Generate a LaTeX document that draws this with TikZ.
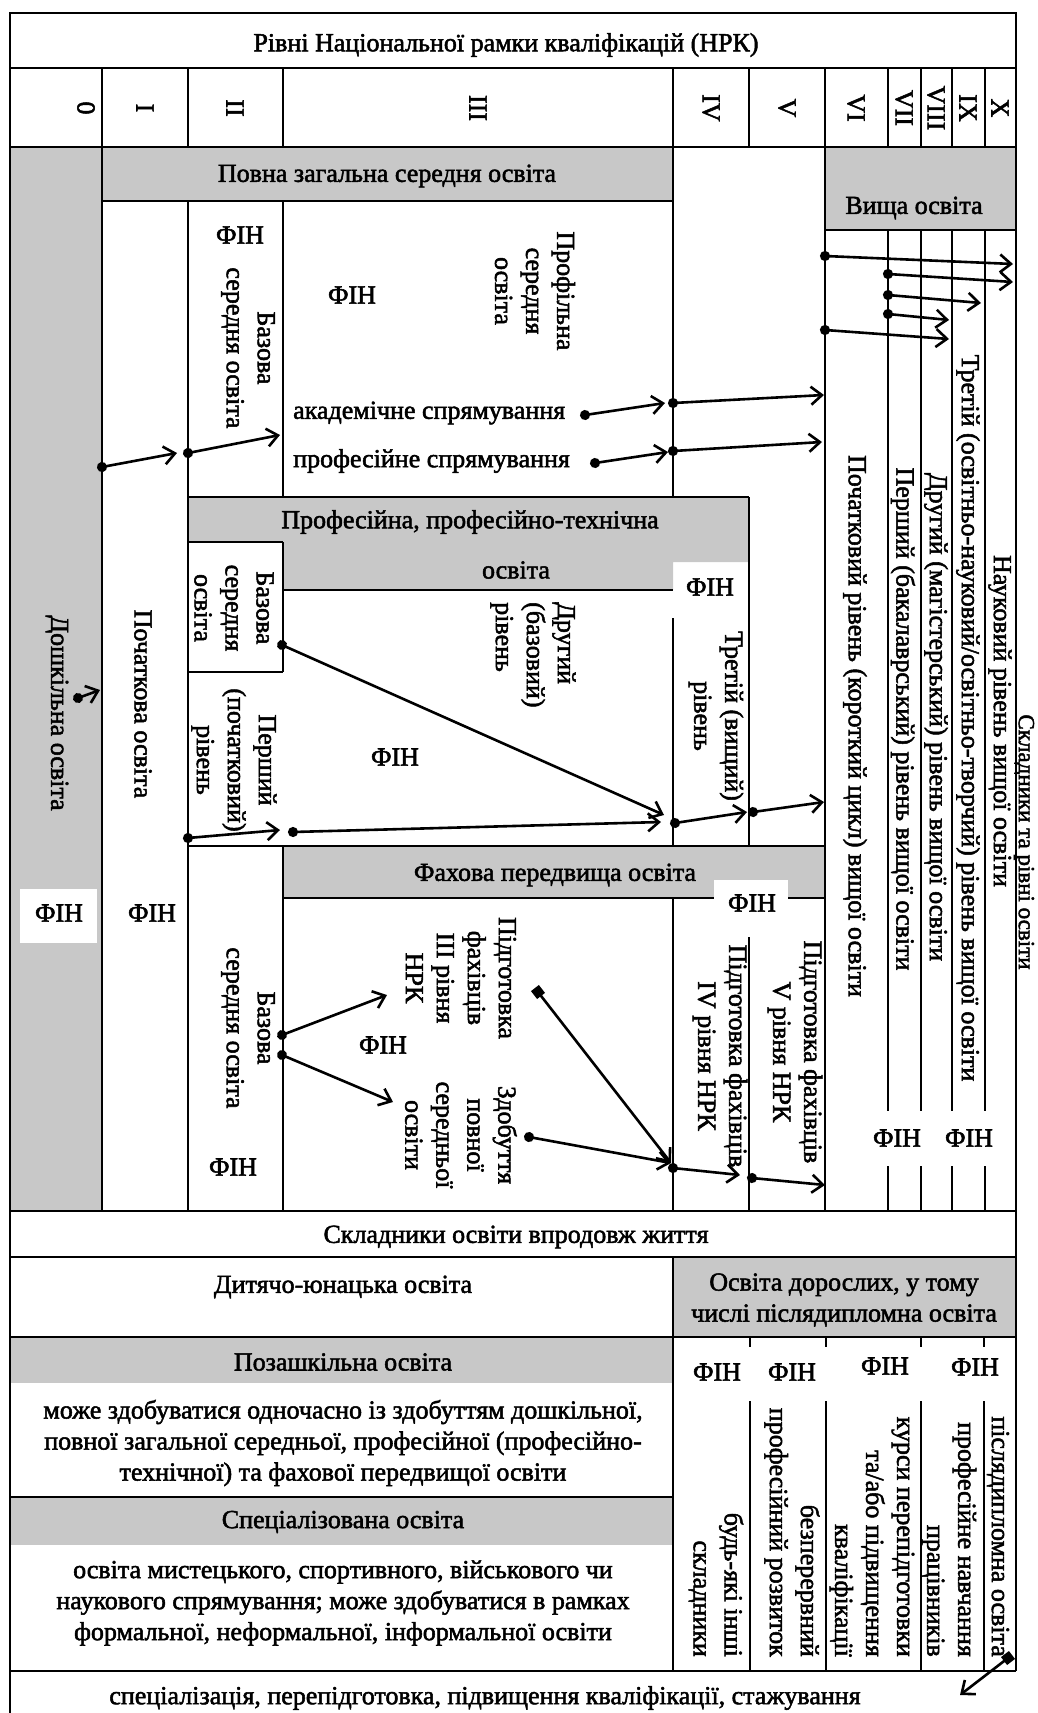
\documentclass[tikz,border=0pt]{standalone}
\usepackage{fontspec}
\setmainfont[FakeBold=2]{Liberation Serif}
\usetikzlibrary{arrows.meta}
\definecolor{bandgray}{RGB}{200,200,200}
\tikzset{
  frame/.style={line width=2.4pt},
  band/.style={fill=bandgray},
  lbl/.style={inner sep=0pt, align=center},
  vlbl/.style={lbl, rotate=-90},
  link/.style={line width=2.6pt, shorten <=-5pt,
    {Circle[length=10pt]}-{Straight Barb[length=11pt,width=18pt]}},
  sqlink/.style={line width=2.6pt, shorten <=-5pt,
    {Square[length=10pt]}-{Straight Barb[length=11pt,width=18pt]}}
}
\begin{document}
\begin{tikzpicture}[x=1pt,y=-1pt,font=\fontsize{26}{31}\selectfont]
      \useasboundingbox (0,0) rectangle (1037,1713);
      \fill[band] (10,148) rectangle (102,1211);
      \fill[band] (102,148) rectangle (673,201);
      \fill[band] (825,148) rectangle (1016,230);
      \fill[band] (188,497) -- (749,497) -- (749,562) -- (673,562) -- (673,590)
        -- (283,590) -- (283,542) -- (188,542) -- cycle;
      \fill[band] (283,846) rectangle (825,898);
      \fill[band] (673,1257) rectangle (1016,1337);
      \fill[band] (10,1337) rectangle (673,1383);
      \fill[band] (10,1497) rectangle (673,1545);
      \fill[white] (20,889) rectangle (97,943);
      \begin{scope}[frame]
        \draw (10,1713) -- (10,13) -- (1016,13) -- (1016,1671);
        \draw (10,68) -- (1016,68);
        \draw (10,147) -- (1016,147);
        \foreach \x in {102,188,283,673,749,825,888,921,952,985}
          \draw (\x,68) -- (\x,147);
        \draw (102,147) -- (102,1211);
        \draw (188,201) -- (188,1211);
        \draw (283,201) -- (283,497) (283,542) -- (283,672) (283,846) -- (283,1211);
        \draw (673,147) -- (673,497) (673,618) -- (673,846) (673,898) -- (673,1211)
          (673,1257) -- (673,1671);
        \draw (749,497) -- (749,846) (749,937) -- (749,1211);
        \draw (825,147) -- (825,1211);
        \foreach \x in {888,921,952,985}
          \draw (\x,230) -- (\x,1111) (\x,1166) -- (\x,1211);
        \draw (102,201) -- (673,201);
        \draw (825,230) -- (1016,230);
        \draw (188,497) -- (749,497);
        \draw (188,542) -- (283,542);
        \draw (283,590) -- (673,590);
        \draw (188,672) -- (283,672);
        \draw (188,846) -- (825,846);
        \draw (283,898) -- (825,898);
        \draw (10,1211) -- (1016,1211);
        \draw (10,1257) -- (1016,1257);
        \draw (10,1337) -- (1016,1337);
        \draw (10,1497) -- (673,1497);
        \draw (10,1671) -- (1016,1671);
        \foreach \x in {750,826,921,984}
          \draw (\x,1337) -- (\x,1347) (\x,1401) -- (\x,1671);
      \end{scope}
      \fill[white] (714,880) rectangle (788,925);

      \node[lbl] (title) at (506,45) {Рівні Національної рамки кваліфікацій (НРК)};
      \node[vlbl] (l0) at (86,108) {0};
      \node[vlbl] (l1) at (145,108) {I};
      \node[vlbl] (l2) at (235,108) {II};
      \node[vlbl] (l3) at (478,108) {III};
      \node[vlbl] (l4) at (711,108) {IV};
      \node[vlbl] (l5) at (787,108) {V};
      \node[vlbl] (l6) at (856,108) {VI};
      \node[vlbl] (l7) at (904,108) {VII};
      \node[vlbl] (l8) at (936,108) {VIII};
      \node[vlbl] (l9) at (968,108) {IX};
      \node[vlbl] (l10) at (1000,108) {X};

      \node[lbl] (povna) at (387,176) {Повна загальна середня освіта};
      \node[lbl] (vyshcha) at (914,208) {Вища освіта};
      \node[vlbl] (doshk) at (57,713) {Дошкільна освіта};
      \node[vlbl] (pochatk) at (143,704) {Початкова освіта};
      \node[lbl] (fin1) at (240,235) {ФІН};
      \node[vlbl] (bazova1) at (248,348) {Базова\\середня освіта};
      \node[lbl] (fin2) at (352,295) {ФІН};
      \node[vlbl] (profil) at (535,291) {Профільна\\середня\\освіта};
      \node[lbl, anchor=west] (akadem) at (293,413) {академічне спрямування};
      \node[lbl, anchor=west] (profes) at (293,461) {професійне спрямування};

      \node[lbl] (pto) at (470,522) {Професійна, професійно-технічна};
      \node[lbl] (pto2) at (516,570) {освіта};
      \node[lbl] (fin3) at (710,587) {ФІН};
      \node[vlbl] (bazova2) at (234,608) {Базова\\середня\\освіта};
      \node[vlbl] (pershyi) at (234,760) {Перший\\(початковий)\\рівень};
      \node[vlbl, align=left, anchor=west] (druhyi) at (533,602) {Другий\\(базовий)\\рівень};
      \node[lbl] (fin4) at (395,757) {ФІН};
      \node[vlbl] (tretii) at (716,716) {Третій (вищий)\\рівень};

      \node[lbl] (fakhova) at (555,875) {Фахова передвища освіта};
      \node[lbl] (fin5) at (752,903) {ФІН};
      \node[lbl] (fin6) at (59,913) {ФІН};
      \node[lbl] (fin7) at (152,913) {ФІН};
      \node[vlbl] (bazova3) at (248,1028) {Базова\\середня освіта};
      \node[lbl] (fin8) at (233,1167) {ФІН};
      \node[lbl] (fin9) at (383,1045) {ФІН};
      \node[vlbl] (pidhIII) at (461,978) {Підготовка\\фахівців\\III рівня\\НРК};
      \node[vlbl] (zdob) at (461,1135) {Здобуття\\повної\\середньої\\освіти};
      \node[vlbl] (pidhIV) at (720,1056) {Підготовка фахівців\\IV рівня НРК};
      \node[vlbl] (pidhV) at (795,1052) {Підготовка фахівців\\V рівня НРК};

      \node[vlbl] (vpoch) at (855,726) {Початковий рівень (короткий цикл) вищої освіти};
      \node[vlbl] (vpersh) at (903,719) {Перший (бакалаврський) рівень вищої освіти};
      \node[vlbl] (vdruh) at (936,717) {Другий (магістерський) рівень вищої освіти};
      \node[vlbl] (vtret) at (968,718) {Третій (освітньо-науковий/освітньо-творчий) рівень вищої освіти};
      \node[vlbl] (vnauk) at (1000,721) {Науковий рівень вищої освіти};
      \node[lbl] (fin10) at (897,1138) {ФІН};
      \node[lbl] (fin11) at (969,1138) {ФІН};
      \node[vlbl, font=\fontsize{23}{27}\selectfont] (skladn) at (1024,842) {Складники та рівні освіти};

      \node[lbl] (vprodovzh) at (516,1237) {Складники освіти впродовж життя};
      \node[lbl] (dytiacho) at (343,1287) {Дитячо-юнацька освіта};
      \node[lbl] (doroslykh) at (844,1300) {Освіта дорослих, у тому\\числі післядипломна освіта};
      \node[lbl] (pozashk) at (343,1362) {Позашкільна освіта};
      \node[lbl] (pozashkT) at (343,1443) {може здобуватися одночасно із здобуттям дошкільної,\\повної загальної середньої, професійної (професійно-\\технічної) та фахової передвищої освіти};
      \node[lbl] (spets) at (343,1522) {Спеціалізована освіта};
      \node[lbl] (spetsT) at (343,1603) {освіта мистецького, спортивного, військового чи\\наукового спрямування; може здобуватися в рамках\\формальної, неформальної, інформальної освіти};
      \node[lbl] (fin12) at (717,1372) {ФІН};
      \node[lbl] (fin13) at (792,1372) {ФІН};
      \node[lbl] (fin14) at (885,1366) {ФІН};
      \node[lbl] (fin15) at (975,1367) {ФІН};
      \node[vlbl, align=right, anchor=east] (inshi) at (716,1657) {будь-які інші\\складники};
      \node[vlbl, align=right, anchor=east] (rozvytok) at (792,1657) {безперервний\\професійний розвиток};
      \node[vlbl, align=right, anchor=east] (kursy) at (872,1657) {курси перепідготовки\\та/або підвищення\\кваліфікації};
      \node[vlbl, align=right, anchor=east] (navch) at (949,1657) {професійне навчання\\працівників};
      \node[vlbl, align=right, anchor=east] (pisliad) at (998,1657) {післядипломна освіта};
      \node[lbl] (stazh) at (485,1698) {спеціалізація, перепідготовка, підвищення кваліфікації, стажування};

      \coordinate (pochS) at (102,467);  \coordinate (bazE) at (177,453);
      \coordinate (bazS) at (188,453);   \coordinate (profE) at (280,435);
      \coordinate (akadS) at (585,415);  \coordinate (akadE) at (665,403);
      \coordinate (akadIV) at (673,403); \coordinate (akadVI) at (824,395);
      \coordinate (prfS) at (595,463);   \coordinate (prfE) at (668,452);
      \coordinate (prfIV) at (673,451);  \coordinate (prfVI) at (822,442);
      \coordinate (vyshA) at (825,256);  \coordinate (naukA) at (1013,264);
      \coordinate (bakA) at (888,274);   \coordinate (naukB) at (1013,282);
      \coordinate (bakB) at (888,295);   \coordinate (tretA) at (981,303);
      \coordinate (bakC) at (888,314);   \coordinate (mahA) at (949,320);
      \coordinate (vyshB) at (825,330);  \coordinate (mahB) at (949,339);
      \coordinate (pershS) at (188,838); \coordinate (pershE) at (280,830);
      \coordinate (druhS) at (293,832);  \coordinate (tretPA) at (661,822);
      \coordinate (bazPS) at (282,645);  \coordinate (tretPB) at (664,815);
      \coordinate (tretPS) at (675,823); \coordinate (tretPE) at (747,812);
      \coordinate (vS) at (753,812);     \coordinate (vyshC) at (824,802);
      \coordinate (doshS) at (78,698);   \coordinate (doshE) at (100,690);
      \coordinate (fbazA) at (282,1035); \coordinate (fIII) at (387,995);
      \coordinate (fbazB) at (282,1055); \coordinate (fzdob) at (393,1102);
      \coordinate (fIIIS) at (538,992);  \coordinate (fIVa) at (671,1163);
      \coordinate (fzdobS) at (529,1137); \coordinate (fIVb) at (671,1163);
      \coordinate (fIVS) at (673,1168);  \coordinate (fVE) at (740,1175);
      \coordinate (fVS) at (752,1178);   \coordinate (fVIE) at (825,1185);
      \coordinate (pdS) at (1008,1658);  \coordinate (pdE) at (960,1695);

      \begin{scope}[link]
        \draw (pochS) to (bazE);
        \draw (bazS) to (profE);
        \draw (akadS) to (akadE);
        \draw (akadIV) to (akadVI);
        \draw (prfS) to (prfE);
        \draw (prfIV) to (prfVI);
        \draw (vyshA) to (naukA);
        \draw (bakA) to (naukB);
        \draw (bakB) to (tretA);
        \draw (bakC) to (mahA);
        \draw (vyshB) to (mahB);
        \draw (pershS) to (pershE);
        \draw (druhS) to (tretPA);
        \draw (bazPS) to (tretPB);
        \draw (tretPS) to (tretPE);
        \draw (vS) to (vyshC);
        \draw (doshS) to (doshE);
        \draw (fbazA) to (fIII);
        \draw (fbazB) to (fzdob);
        \draw (fzdobS) to (fIVb);
        \draw (fIVS) to (fVE);
        \draw (fVS) to (fVIE);
      \end{scope}
      \draw[sqlink] (fIIIS) to (fIVa);
      \draw[sqlink] (pdS) to (pdE);
    \end{tikzpicture}
\end{document}
